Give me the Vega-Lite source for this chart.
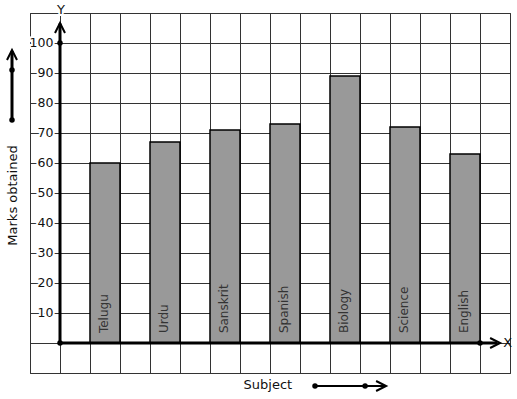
{
  "$schema": "https://vega.github.io/schema/vega-lite/v6.json",
  "width": 480,
  "height": 360,
  "autosize": {"type": "none"},
  "padding": {"left": 30, "top": 13, "right": 7, "bottom": 26},
  "background": "white",
  "config": {
    "view": {"stroke": "#333", "strokeWidth": 1},
    "font": "DejaVu Sans",
    "text": {"font": "DejaVu Sans"}
  },
  "data": {"values": [{}]},
  "datasets": {
    "bars": [
      {"subject": "Telugu", "marks": 60, "pos": 1.5},
      {"subject": "Urdu", "marks": 67, "pos": 3.5},
      {"subject": "Sanskrit", "marks": 71, "pos": 5.5},
      {"subject": "Spanish", "marks": 73, "pos": 7.5},
      {"subject": "Biology", "marks": 89, "pos": 9.5},
      {"subject": "Science", "marks": 72, "pos": 11.5},
      {"subject": "English", "marks": 63, "pos": 13.5}
    ],
    "ticks": [
      {"v": 10}, {"v": 20}, {"v": 30}, {"v": 40}, {"v": 50},
      {"v": 60}, {"v": 70}, {"v": 80}, {"v": 90}, {"v": 100}
    ]
  },
  "layer": [
    {
      "data": {"name": "bars"},
      "mark": {"type": "bar", "width": 30, "fill": "#999999", "stroke": "#000", "strokeWidth": 1.5},
      "encoding": {
        "x": {
          "field": "pos", "type": "quantitative",
          "scale": {"domain": [-1, 15], "nice": false, "zero": false, "padding": 0},
          "axis": {"values": [-1,0,1,2,3,4,5,6,7,8,9,10,11,12,13,14,15], "tickCount": 40, "grid": true, "labels": false, "ticks": false, "domain": false, "title": null, "gridColor": "#333", "gridWidth": 1, "gridOpacity": 1}
        },
        "y": {
          "field": "marks", "type": "quantitative",
          "scale": {"domain": [-10, 110], "nice": false, "padding": 0},
          "axis": {"values": [-10,0,10,20,30,40,50,60,70,80,90,100,110], "tickCount": 40, "grid": true, "labels": false, "ticks": false, "domain": false, "title": null, "gridColor": "#333", "gridWidth": 1, "gridOpacity": 1}
        }
      }
    },
    {
      "data": {"name": "bars"},
      "mark": {"type": "text", "angle": 270, "align": "left", "baseline": "middle", "fontSize": 12, "color": "#333", "dy": -1},
      "encoding": {
        "x": {"field": "pos", "type": "quantitative"},
        "y": {"datum": 3.3},
        "text": {"field": "subject"}
      }
    },
    {
      "data": {"name": "ticks"},
      "mark": {"type": "text", "align": "right", "baseline": "middle", "fontSize": 12.5, "stroke": "white", "strokeWidth": 4, "fill": "white"},
      "encoding": {
        "x": {"datum": -0.22},
        "y": {"field": "v", "type": "quantitative"},
        "text": {"field": "v"}
      }
    },
    {
      "data": {"name": "ticks"},
      "mark": {"type": "text", "align": "right", "baseline": "middle", "fontSize": 12.5, "color": "#111"},
      "encoding": {
        "x": {"datum": -0.22},
        "y": {"field": "v", "type": "quantitative"},
        "text": {"field": "v"}
      }
    },
    {
      "mark": {"type": "rule", "strokeWidth": 3, "color": "#000"},
      "encoding": {"x": {"datum": 0}, "y": {"datum": 0}, "y2": {"datum": 106.5}}
    },
    {
      "mark": {"type": "rule", "strokeWidth": 3, "color": "#000"},
      "encoding": {"y": {"datum": 0}, "x": {"datum": 0}, "x2": {"datum": 14.57}}
    },
    {
      "mark": {"type": "point", "shape": "M-0.5,1L0,0L0.5,1", "size": 400, "filled": false, "stroke": "#000", "strokeWidth": 2, "opacity": 1},
      "encoding": {"x": {"datum": 0}, "y": {"datum": 106.67}}
    },
    {
      "mark": {"type": "point", "shape": "M-1,-0.5L0,0L-1,0.5", "size": 400, "filled": false, "stroke": "#000", "strokeWidth": 2, "opacity": 1},
      "encoding": {"x": {"datum": 14.67}, "y": {"datum": 0}}
    },
    {
      "mark": {"type": "point", "filled": true, "size": 30, "color": "#000", "opacity": 1},
      "encoding": {"x": {"datum": 0}, "y": {"datum": 0}}
    },
    {
      "mark": {"type": "point", "filled": true, "size": 30, "color": "#000", "opacity": 1},
      "encoding": {"x": {"datum": 0}, "y": {"datum": 100}}
    },
    {
      "mark": {"type": "point", "filled": true, "size": 30, "color": "#000", "opacity": 1},
      "encoding": {"x": {"datum": 14}, "y": {"datum": 0}}
    },
    {
      "mark": {"type": "text", "align": "center", "baseline": "middle", "fontSize": 13, "stroke": "white", "strokeWidth": 4, "fill": "white"},
      "encoding": {"x": {"datum": 0.03}, "y": {"datum": 111}, "text": {"value": "Y"}}
    },
    {
      "mark": {"type": "text", "align": "center", "baseline": "middle", "fontSize": 13, "color": "#111"},
      "encoding": {"x": {"datum": 0.03}, "y": {"datum": 111}, "text": {"value": "Y"}}
    },
    {
      "mark": {"type": "text", "align": "center", "baseline": "middle", "fontSize": 13, "color": "#111"},
      "encoding": {"x": {"datum": 14.92}, "y": {"datum": 0}, "text": {"value": "X"}}
    },
    {
      "mark": {"type": "text", "align": "center", "baseline": "middle", "fontSize": 13, "angle": 270, "color": "#111"},
      "encoding": {"x": {"datum": -1.583}, "y": {"datum": 49.17}, "text": {"value": "Marks obtained"}}
    },
    {
      "mark": {"type": "text", "align": "center", "baseline": "alphabetic", "fontSize": 13, "color": "#111"},
      "encoding": {"x": {"datum": 6.93}, "y": {"datum": -15.33}, "text": {"value": "Subject"}}
    },
    {
      "mark": {"type": "rule", "strokeWidth": 3, "color": "#000"},
      "encoding": {"x": {"datum": -1.6}, "y": {"datum": 74.33}, "y2": {"datum": 97.3}}
    },
    {
      "mark": {"type": "point", "shape": "M-0.5,1L0,0L0.5,1", "size": 400, "filled": false, "stroke": "#000", "strokeWidth": 2, "opacity": 1},
      "encoding": {"x": {"datum": -1.6}, "y": {"datum": 97.67}}
    },
    {
      "mark": {"type": "point", "filled": true, "size": 30, "color": "#000", "opacity": 1},
      "encoding": {"x": {"datum": -1.6}, "y": {"datum": 74.33}}
    },
    {
      "mark": {"type": "point", "filled": true, "size": 30, "color": "#000", "opacity": 1},
      "encoding": {"x": {"datum": -1.6}, "y": {"datum": 91}}
    },
    {
      "mark": {"type": "rule", "strokeWidth": 2, "color": "#000"},
      "encoding": {"y": {"datum": -14.33}, "x": {"datum": 8.5}, "x2": {"datum": 10.83}}
    },
    {
      "mark": {"type": "point", "shape": "M-1,-0.5L0,0L-1,0.5", "size": 400, "filled": false, "stroke": "#000", "strokeWidth": 2, "opacity": 1},
      "encoding": {"x": {"datum": 10.87}, "y": {"datum": -14.33}}
    },
    {
      "mark": {"type": "point", "filled": true, "size": 30, "color": "#000", "opacity": 1},
      "encoding": {"x": {"datum": 8.5}, "y": {"datum": -14.33}}
    },
    {
      "mark": {"type": "point", "filled": true, "size": 30, "color": "#000", "opacity": 1},
      "encoding": {"x": {"datum": 10.17}, "y": {"datum": -14.33}}
    }
  ]
}
